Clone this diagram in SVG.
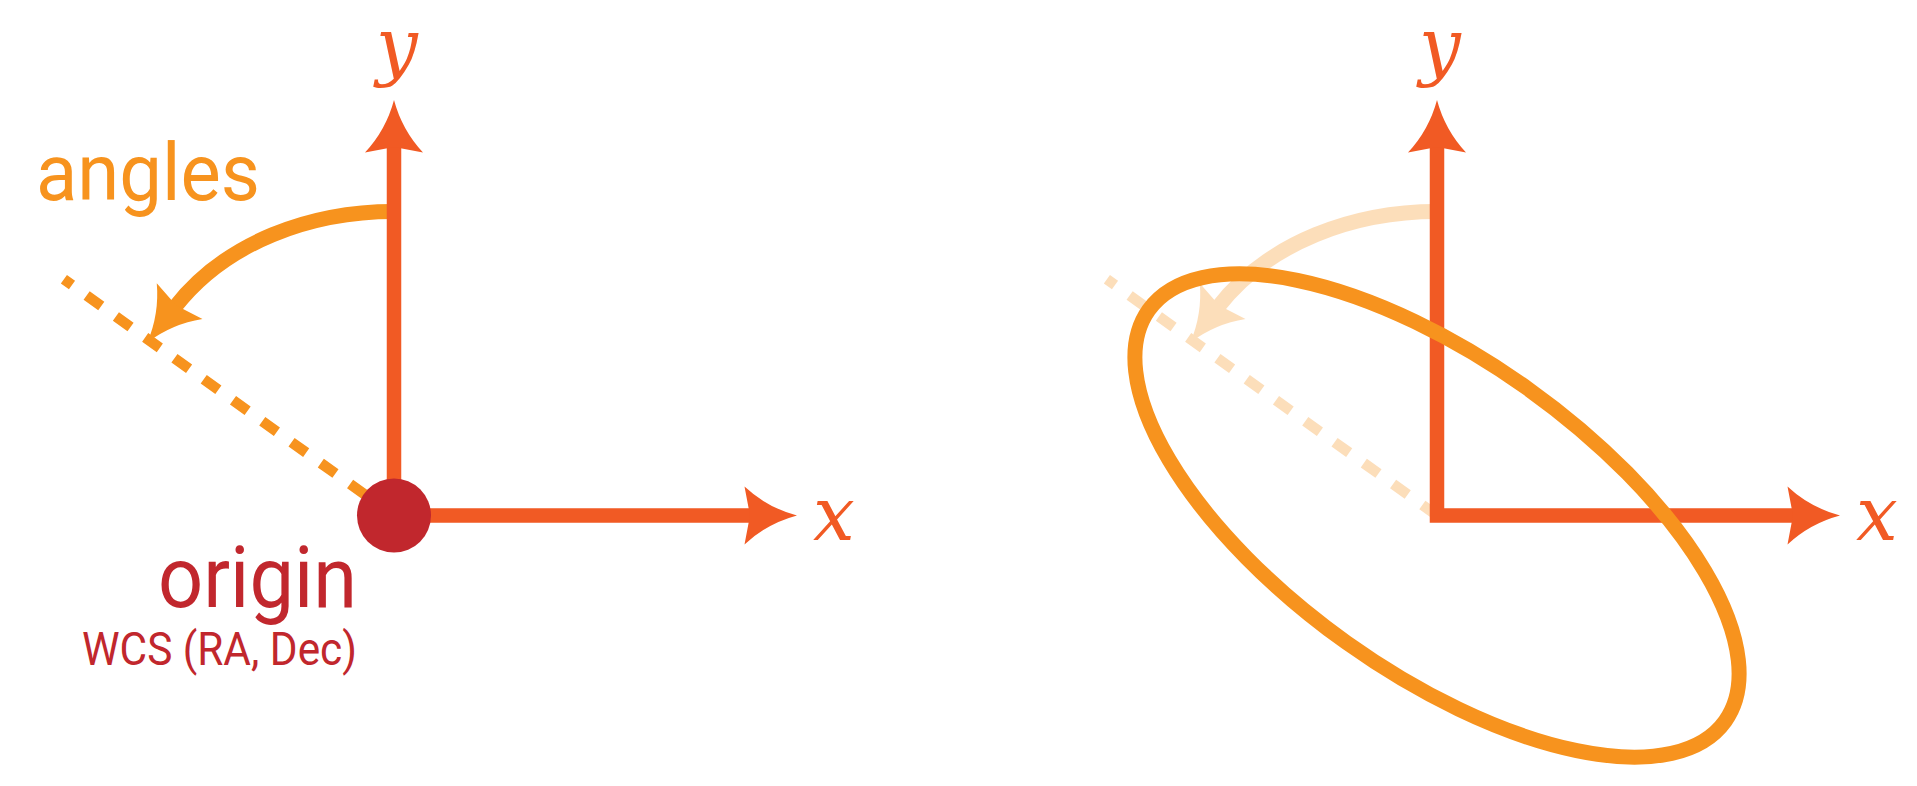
<svg xmlns="http://www.w3.org/2000/svg" width="1917" height="786" viewBox="0 0 1917 786">
<style>
.axis{fill:none;stroke:#F15A24;stroke-width:14.5;stroke-linejoin:miter;marker-start:url(#ahAxis);marker-end:url(#ahAxis)}
.ref{fill:none;stroke:#F7931E;stroke-width:10.5;stroke-dasharray:18 18}
.arc{fill:none;stroke:#F7931E;stroke-width:15;marker-end:url(#ahArc)}
.faded{opacity:0.3}
.ell{fill:none;stroke:#F7931E;stroke-width:15}
.math{font-family:"DejaVu Serif","Liberation Serif",serif;font-style:italic;font-size:74px;fill:#F15A24}
.lbl{font-family:Roboto,"Liberation Sans",sans-serif}
</style>
<defs>
<marker id="ahAxis" markerUnits="userSpaceOnUse" viewBox="-10 -32 58 64" refX="0" refY="0" markerWidth="58" markerHeight="64" orient="auto-start-reverse" overflow="visible">
<path d="M45,0 Q15,-8 -7.5,-29 L-2,0 L-7.5,29 Q15,8 45,0Z" fill="#F15A24"/>
</marker>
<marker id="ahArc" markerUnits="userSpaceOnUse" viewBox="-10 -32 58 64" refX="0" refY="0" markerWidth="58" markerHeight="64" orient="auto" overflow="visible">
<path d="M45,0 Q15,-8 -7.5,-29 L-2,0 L-7.5,29 Q15,8 45,0Z" fill="#F7931E"/>
</marker>
</defs>
<rect width="1917" height="786" fill="#fff"/>

<g id="connectors">
<!-- left panel -->
<path class="ref" d="M394,515.5 L63.9,279.2"/>
<path class="arc" d="M394,211.5 C311,211.5 226,241.7 175,307"/>
<path class="axis" d="M394,145 V515.5 H752"/>
<!-- right panel -->
<g class="faded">
<path class="ref" d="M1437,515.5 L1106.9,279.2"/>
<path class="arc" d="M1437,211.5 C1354,211.5 1269,241.7 1218,307"/>
</g>
<path class="axis" d="M1437,145 V515.5 H1795"/>
</g>

<g id="origin-node">
<circle cx="394" cy="515.5" r="37" fill="#C1272D"/>
<text class="lbl" x="158" y="607" font-size="85" fill="#C1272D" textLength="199" lengthAdjust="spacingAndGlyphs">origin</text>
<text class="lbl" x="82" y="665" font-size="46" fill="#C1272D" textLength="275" lengthAdjust="spacingAndGlyphs">WCS (RA, Dec)</text>
</g>

<g id="angles-label">
<text class="lbl" x="36" y="200" font-size="80" fill="#F7931E" textLength="224" lengthAdjust="spacingAndGlyphs">angles</text>
</g>

<g id="axis-labels-left">
<text class="math" x="397" y="71" text-anchor="middle">y</text>
<text class="math" x="813" y="540">x</text>
</g>

<g id="axis-labels-right">
<text class="math" x="1440" y="71" text-anchor="middle">y</text>
<text class="math" x="1856" y="540">x</text>
</g>

<g id="ellipse-node">
<ellipse class="ell" cx="1437" cy="515.5" rx="354" ry="156" transform="rotate(35.5 1437 515.5)"/>
</g>
</svg>
